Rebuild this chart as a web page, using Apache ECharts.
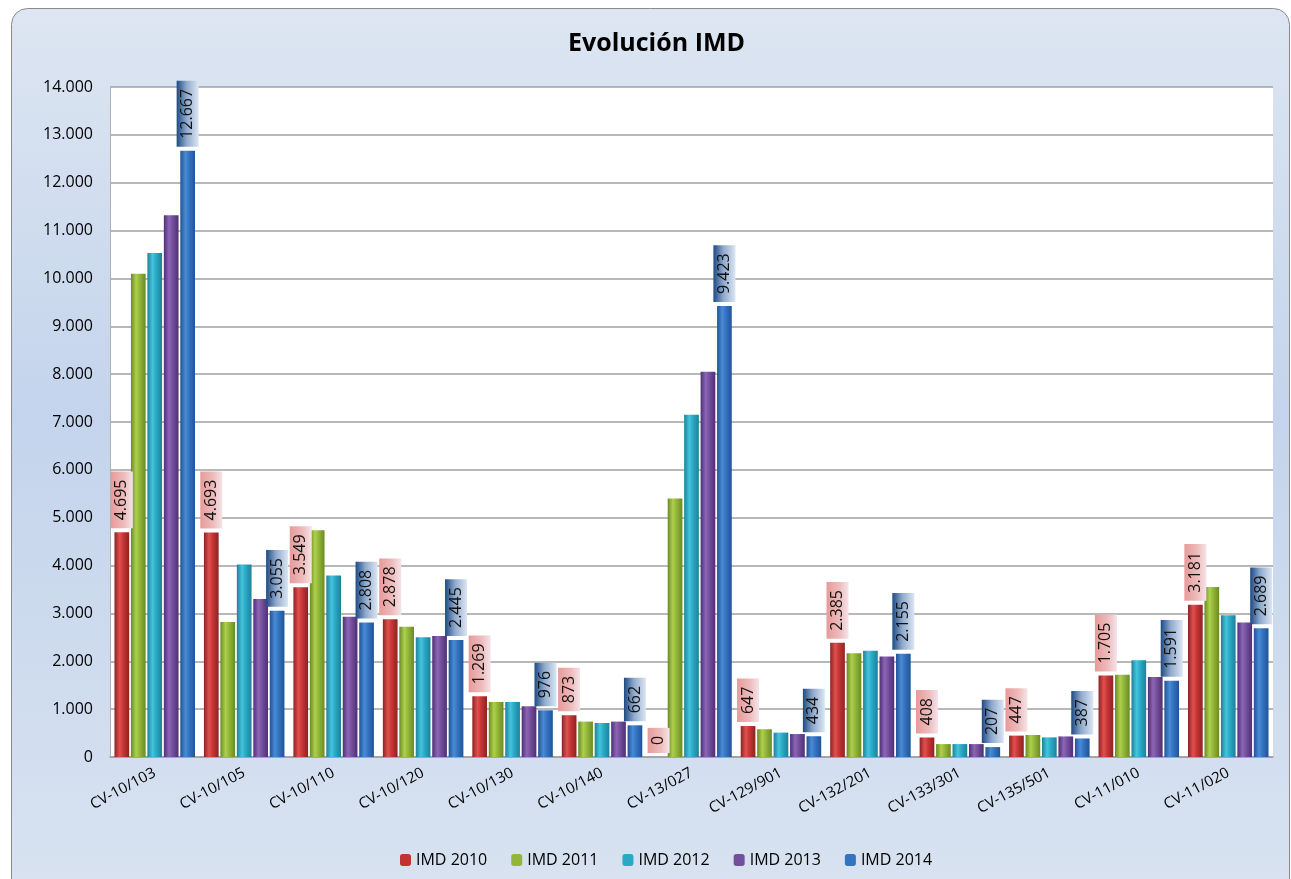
<!DOCTYPE html>
<html>
<head>
<meta charset="utf-8">
<script src="https://cdn.jsdelivr.net/npm/echarts@6/dist/echarts.min.js"></script>
<style>
html,body{margin:0;padding:0;background:#ffffff;}
#chart{width:1291px;height:879px;}
</style>
</head>
<body>
<div id="chart"></div>
<script>
const categories = ['CV-10/103','CV-10/105','CV-10/110','CV-10/120','CV-10/130','CV-10/140','CV-13/027','CV-129/901','CV-132/201','CV-133/301','CV-135/501','CV-11/010','CV-11/020'];
const seriesNames = ['IMD 2010','IMD 2011','IMD 2012','IMD 2013','IMD 2014'];
const imd2010 = [4695, 4693, 3549, 2878, 1269, 873, 0, 647, 2385, 408, 447, 1705, 3181];
const imd2011 = [10100, 2820, 4740, 2720, 1150, 740, 5400, 580, 2170, 270, 460, 1720, 3550];
const imd2012 = [10530, 4020, 3790, 2500, 1150, 710, 7150, 510, 2220, 270, 410, 2020, 2960];
const imd2013 = [11320, 3300, 2930, 2530, 1060, 740, 8050, 480, 2100, 270, 430, 1670, 2810];
const imd2014 = [12667, 3055, 2808, 2445, 976, 662, 9423, 434, 2155, 207, 387, 1591, 2689];
const yTicks = [0, 1000, 2000, 3000, 4000, 5000, 6000, 7000, 8000, 9000, 10000, 11000, 12000, 13000, 14000];

const FONT = 'Open Sans';
function fmt(v){
  return String(Math.round(v)).replace(/\B(?=(\d{3})+(?!\d))/g, '.');
}
const G = echarts.graphic.LinearGradient;
function barGrad(dark, mid, light){
  return new G(0,0,1,0,[
    {offset:0, color:dark},
    {offset:0.35, color:light},
    {offset:0.6, color:mid},
    {offset:1, color:dark}
  ]);
}
const barColors = [
  barGrad('#8e2222','#c63535','#e05050'),
  barGrad('#6b8a22','#93b539','#aed04c'),
  barGrad('#1d8199','#2aa9c6','#45c4de'),
  barGrad('#4e2f74','#744f9c','#8c66b5'),
  barGrad('#1f5496','#3473c0','#4a8ad6')
];
const legendColors = ['#c23232','#93b539','#2aa9c6','#744f9c','#3473c0'];

function labelCfg(kind){
  const bg = kind === 'red'
    ? new G(0,0,0,1,[{offset:0,color:'#e79a9a'},{offset:0.6,color:'#eebcbc'},{offset:1,color:'#f4e4ea'}])
    : new G(0,0,0,1,[{offset:0,color:'#1d4a85'},{offset:0.45,color:'#8fa9cc'},{offset:1,color:'#dde6f3'}]);
  return {
    show:true,
    position:'top',
    rotate:90,
    align:'left',
    verticalAlign:'middle',
    distance:4,
    formatter:p=>fmt(p.value),
    fontFamily:FONT,
    fontSize:16,
    lineHeight:18,
    color:'#111',
    backgroundColor:bg,
    padding:[2,8,2,8]
  };
}

const dataSets = [imd2010, imd2011, imd2012, imd2013, imd2014];
const series = dataSets.map((d,i)=>({
  name:seriesNames[i],
  type:'bar',
  data:d,
  barGap:'12%',
  barCategoryGap:'10%',
  itemStyle:{color:barColors[i]},
  label: i===0 ? labelCfg('red') : (i===4 ? labelCfg('blue') : {show:false}),
  emphasis:{disabled:true}
}));

const chart = echarts.init(document.getElementById('chart'), null, {renderer:'canvas'});
chart.setOption({
  animation:false,
  graphic:[{
    type:'rect',
    z:-10,
    shape:{x:11.5, y:8.5, width:1278, height:900, r:16},
    style:{
      fill:new G(0,0,0,1,[{offset:0,color:'#dde6f2'},{offset:0.45,color:'#c4d4ec'},{offset:1,color:'#d9e3f1'}]),
      stroke:'#8a8a8a', lineWidth:1
    }
  }],
  title:{
    text:'Evolución IMD',
    left:563,
    top:26,
    textStyle:{fontFamily:FONT, fontWeight:'bold', fontSize:25, color:'#000'}
  },
  legend:{
    bottom:6,
    left:395,
    itemWidth:11,
    itemHeight:12,
    itemGap:24,
    textStyle:{fontFamily:FONT, fontSize:16, color:'#000'},
    data:seriesNames.map((n,i)=>({name:n, itemStyle:{color:legendColors[i]}}))
  },
  grid:{
    left:110, right:18, top:87, bottom:122,
    show:true, backgroundColor:'#ffffff', borderWidth:0
  },
  xAxis:{
    type:'category',
    data:categories,
    axisLine:{show:true, lineStyle:{color:'#a0a0a0', width:1.5}},
    axisTick:{show:false},
    axisLabel:{rotate:28, fontFamily:FONT, fontSize:15, color:'#000', margin:15, interval:0}
  },
  yAxis:{
    type:'value',
    min:yTicks[0],
    max:yTicks[yTicks.length-1],
    interval:1000,
    axisLine:{show:true, lineStyle:{color:'#b0b0b0'}},
    axisTick:{show:false},
    splitLine:{lineStyle:{color:'#a0a0a0', width:1.5}},
    axisLabel:{formatter:v=>fmt(v), fontFamily:FONT, fontSize:16, color:'#000', margin:17}
  },
  series:series
});
</script>
</body>
</html>
